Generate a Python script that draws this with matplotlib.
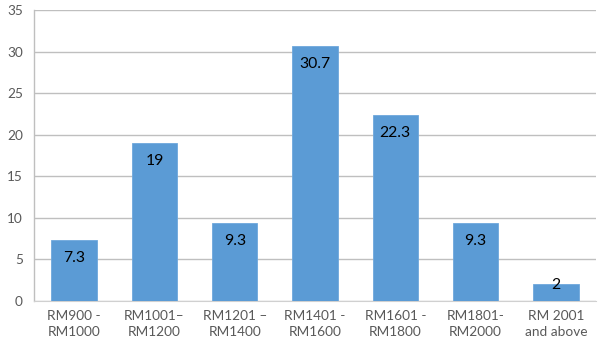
import matplotlib
matplotlib.use("Agg")
import matplotlib.pyplot as plt

categories = ["RM900 -\nRM1000", "RM1001–\nRM1200", "RM1201 –\nRM1400", "RM1401 -\nRM1600",
              "RM1601 -\nRM1800", "RM1801-\nRM2000", "RM 2001\nand above"]
values = [7.3, 19, 9.3, 30.7, 22.3, 9.3, 2]
labels = ["7.3", "19", "9.3", "30.7", "22.3", "9.3", "2"]
yticks = [0, 5, 10, 15, 20, 25, 30, 35]

plt.rcParams['font.family'] = ['Lato', 'DejaVu Sans']

fig = plt.figure(figsize=(6.06, 3.52), dpi=100)
ax = fig.add_axes([34/606, 1-300.7/352, (596-34)/606, (300.7-10)/352])

x = list(range(len(values)))
ax.bar(x, values, width=0.565, color="#5B9BD5", edgecolor="#6FA8DC", linewidth=0.6, zorder=3)

ax.set_xlim(-0.5, len(values)-0.5)
ax.set_ylim(0, 35)
ax.set_yticks(yticks)
ax.set_yticklabels([str(t) for t in yticks])
ax.set_xticks(x)
ax.set_xticklabels(categories, linespacing=1.4)
ax.tick_params(axis='both', length=0, colors="#595959", labelsize=9.8)
ax.tick_params(axis='x', pad=7)
ax.tick_params(axis='y', pad=8)
ax.grid(axis='y', color="#BFBFBF", linewidth=1.0, zorder=0)
for s in ["top", "right"]:
    ax.spines[s].set_visible(False)
ax.spines["left"].set_color("#BFBFBF")
ax.spines["bottom"].set_color("#D0D0D0")
ax.spines["left"].set_linewidth(1.0)

for xi, v, lab in zip(x, values, labels):
    bar_px = v / 35 * 290.7
    off = -18 if bar_px > 40 else -1
    ax.annotate(lab, (xi, v), xytext=(0, off * 72 / 100), textcoords="offset points",
                ha="center", va="center", fontsize=11.3, color="#000000", zorder=4)

fig.savefig("out.png", dpi=100)
